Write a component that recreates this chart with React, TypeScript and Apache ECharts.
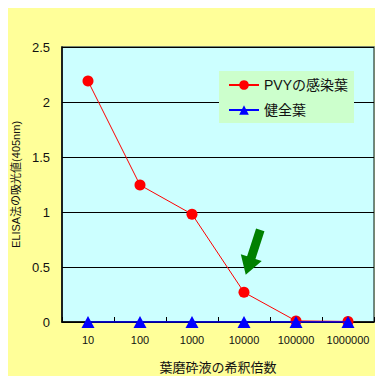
import React, { useEffect, useRef } from "react";
import * as echarts from "echarts";

const categories = ["10", "100", "1000", "10000", "100000", "1000000"];
const infectedValues = [2.19, 1.245, 0.98, 0.27, 0.01, 0.005];
const healthyValues = [0, 0, 0, 0, 0, 0];
const yTicks = { min: 0, max: 2.5, interval: 0.5 };
const seriesNames = ["PVYの感染葉", "健全葉"];
const arrowAt = { category: "10000", value: 0.27 };

const FONT = "'Liberation Sans', Arial, 'Noto Sans CJK JP', sans-serif";
const CJK = "'Liberation Sans', 'Noto Sans CJK JP', sans-serif";

export default function App() {
  const ref = useRef<HTMLDivElement>(null);
  useEffect(() => {
    if (!ref.current) return;
    const chart = echarts.init(ref.current, null, { renderer: "svg" });
    chart.setOption({
      animation: false,
      backgroundColor: "#ffff99",
      grid: {
        left: 54,
        right: 9,
        top: 39,
        bottom: 54,
        show: true,
        backgroundColor: "#ccffff",
        borderColor: "#4a6060",
        borderWidth: 1.5,
        containLabel: false,
        outerBoundsMode: "none",
      },
      legend: {
        orient: "vertical",
        left: 211,
        top: 63,
        backgroundColor: "#ccffcc",
        padding: [7, 6, 6, 9],
        itemWidth: 30,
        itemHeight: 12,
        itemGap: 11,
        textStyle: { fontSize: 14, fontFamily: CJK, color: "#111" },
        data: seriesNames,
      },
      xAxis: {
        type: "category",
        data: categories,
        boundaryGap: true,
        name: "葉磨砕液の希釈倍数",
        nameLocation: "middle",
        nameGap: 39,
        nameTextStyle: { fontSize: 13, fontFamily: CJK, color: "#111" },
        axisLine: { lineStyle: { color: "#000", width: 1.5 } },
        axisTick: { show: true, inside: true, length: 5, interval: 0, lineStyle: { color: "#000" } },
        axisLabel: { fontSize: 11, fontFamily: FONT, color: "#111", margin: 12, interval: 0 },
        splitLine: { show: false },
      },
      yAxis: {
        type: "value",
        min: yTicks.min,
        max: yTicks.max,
        interval: yTicks.interval,
        name: "ELISA法の吸光値(405nm)",
        nameLocation: "middle",
        nameGap: 37,
        nameTextStyle: { fontSize: 11, fontFamily: CJK, color: "#111" },
        axisLine: { show: true, lineStyle: { color: "#000", width: 1.5 } },
        axisTick: { show: false },
        axisLabel: { fontSize: 13, fontFamily: FONT, color: "#111", margin: 12 },
        splitLine: { show: true, lineStyle: { color: "#000", width: 1 } },
      },
      series: [
        {
          name: seriesNames[1],
          type: "line",
          data: healthyValues,
          symbol: "triangle",
          symbolSize: [13, 12],
          itemStyle: { color: "#0000ff" },
          lineStyle: { color: "#0000ff", width: 1.5 },
          z: 3,
        },
        {
          name: seriesNames[0],
          type: "line",
          data: infectedValues,
          symbol: "circle",
          symbolSize: 11,
          itemStyle: { color: "#ff0000" },
          lineStyle: { color: "#ff0000", width: 1 },
          z: 2,
          markPoint: {
            silent: true,
            symbol: "path://M6,0 L14,0 L14,26 L20,26 L10,42 L0,26 L6,26 Z",
            symbolSize: [22, 47],
            symbolRotate: -18,
            symbolOffset: [9, -40],
            itemStyle: { color: "#008000" },
            label: { show: false },
            data: [{ coord: [arrowAt.category, arrowAt.value] }],
          },
        },
      ],
    });
    return () => chart.dispose();
  }, []);
  return <div ref={ref} style={{ width: 375, height: 368 }} />;
}
